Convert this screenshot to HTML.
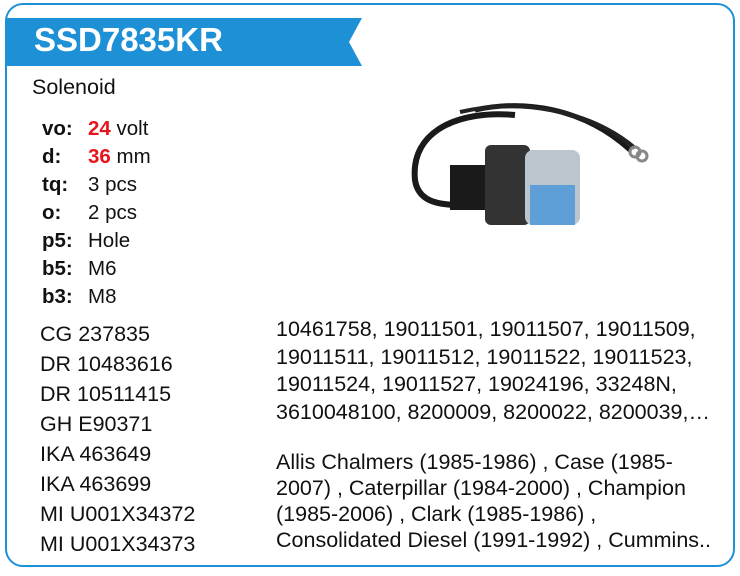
<!DOCTYPE html>
<html><head><style>
body{margin:0;width:740px;height:576px;background:#fff;font-family:"Liberation Sans",Arial,sans-serif;position:relative;overflow:hidden}
.box{position:absolute;left:5px;top:3px;width:726px;height:560px;border:2px solid #1e90d6;border-radius:18px}
.t{position:absolute;white-space:nowrap;font-size:21.5px;color:#111}
.s{font-size:20.5px}
.k{font-weight:bold;display:inline-block;width:46px}
.r{color:#e8141b;font-weight:bold}
</style></head><body>
<div class="box"></div>
<svg style="position:absolute;left:0;top:0" width="740" height="80"><polygon points="7,18 362,18 349,42 362,66 7,66" fill="#1e90d6"/></svg>
<div class="t" style="left:34px;top:21px;font-size:33px;font-weight:bold;color:#fff">SSD7835KR</div>
<div class="t" style="left:32px;top:75px">Solenoid</div>
<div class="t s" style="left:42px;top:117px"><span class="k">vo:</span><span class="r">24</span> volt</div>
<div class="t s" style="left:42px;top:145px"><span class="k">d:</span><span class="r">36</span> mm</div>
<div class="t s" style="left:42px;top:173px"><span class="k">tq:</span>3 pcs</div>
<div class="t s" style="left:42px;top:201px"><span class="k">o:</span>2 pcs</div>
<div class="t s" style="left:42px;top:229px"><span class="k">p5:</span>Hole</div>
<div class="t s" style="left:42px;top:257px"><span class="k">b5:</span>M6</div>
<div class="t s" style="left:42px;top:285px"><span class="k">b3:</span>M8</div>
<div class="t" style="left:40px;top:319px;line-height:30px">CG 237835<br>DR 10483616<br>DR 10511415<br>GH E90371<br>IKA 463649<br>IKA 463699<br>MI U001X34372<br>MI U001X34373</div>
<div class="t" style="left:276px;top:316px;line-height:27.5px">10461758, 19011501, 19011507, 19011509,<br>19011511, 19011512, 19011522, 19011523,<br>19011524, 19011527, 19024196, 33248N,<br>3610048100, 8200009, 8200022, 8200039,…</div>
<div class="t" style="left:276px;top:449px;line-height:26px">Allis Chalmers (1985-1986) , Case (1985-<br>2007) , Caterpillar (1984-2000) , Champion<br>(1985-2006) , Clark (1985-1986) ,<br>Consolidated Diesel (1991-1992) , Cummins..</div>
<svg style="position:absolute;left:400px;top:70px" width="280" height="180">
<path d="M115,45 C60,40 10,60 15,110 C18,130 35,135 60,135" stroke="#1a1a1a" stroke-width="6" fill="none"/>
<path d="M75,40 C120,30 180,35 230,80" stroke="#1a1a1a" stroke-width="5" fill="none"/>
<path d="M60,42 C120,28 190,40 235,78" stroke="#222" stroke-width="4" fill="none"/>
<circle cx="235" cy="82" r="5" stroke="#888" stroke-width="3" fill="none"/>
<circle cx="242" cy="86" r="5" stroke="#888" stroke-width="3" fill="none"/>
<rect x="50" y="95" width="45" height="45" fill="#1a1a1a"/>
<rect x="85" y="75" width="45" height="80" rx="6" fill="#333"/>
<rect x="125" y="80" width="55" height="75" rx="8" fill="#bcc4cc"/>
<rect x="130" y="115" width="45" height="40" fill="#5e9fd8"/>
</svg>
</body></html>
